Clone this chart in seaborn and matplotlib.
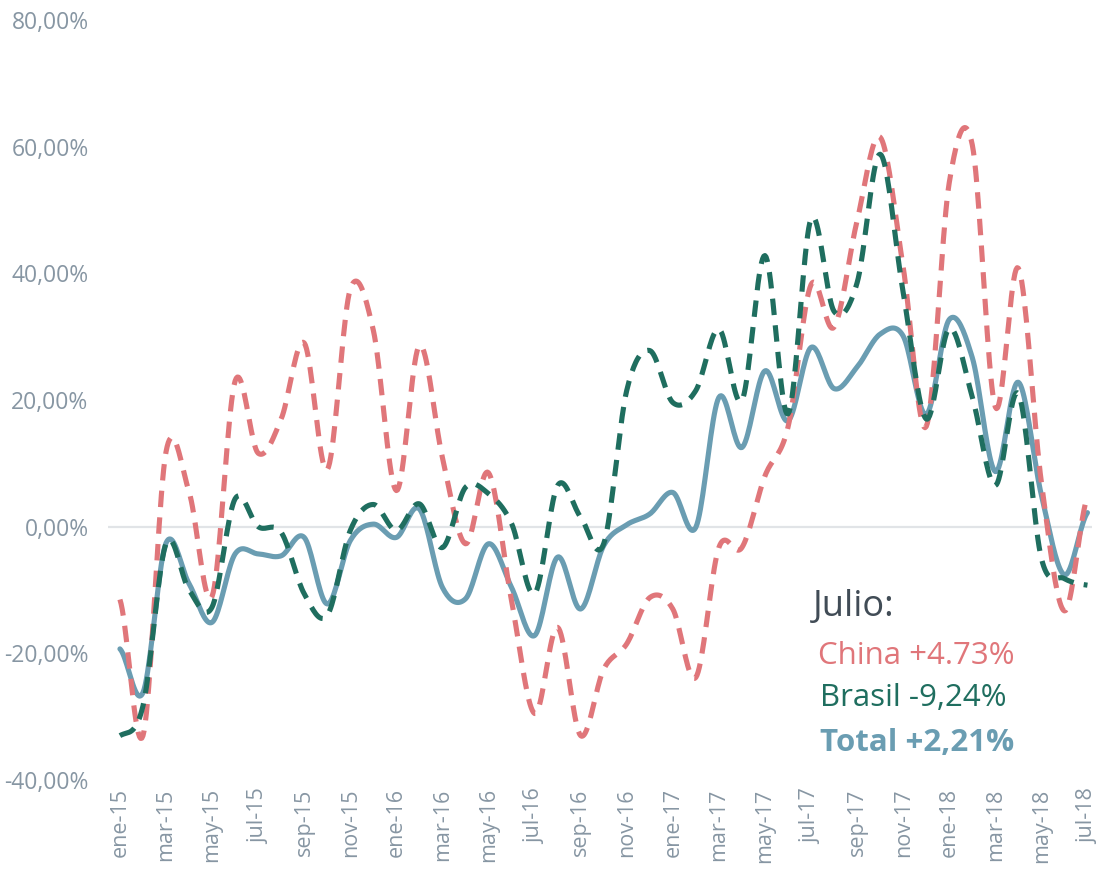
import numpy as np
import pandas as pd
import matplotlib
matplotlib.use('Agg')
import matplotlib.pyplot as plt
import seaborn as sns

# monthly year-on-year variation (%), ene-15 .. jul-18
dates = pd.date_range('2015-01-01', periods=43, freq='MS')
month_names = ['ene', 'feb', 'mar', 'abr', 'may', 'jun', 'jul', 'ago', 'sep', 'oct', 'nov', 'dic']

china = [-11.5, -33.0, 11.8, 5.5, -11.0, 23.0, 11.6, 17.0, 29.0, 9.0,
         37.5, 31.0, 5.7, 28.6, 10.9, -2.7, 8.5, -11.7, -29.5, -15.9,
         -33.0, -22.5, -18.5, -11.2, -13.0, -23.8, -3.3, -3.3, 8.0, 15.7,
         38.2, 31.5, 48.3, 61.5, 41.0, 15.8, 54.3, 60.3, 18.9, 40.8,
         7.0, -13.3, 4.73]
brasil = [-33.0, -28.3, -2.7, -10.0, -12.7, 4.4, 0.0, -0.9, -10.6, -14.0,
          -0.6, 3.5, -0.6, 3.6, -3.3, 6.2, 5.2, 0.5, -10.6, 6.5,
          1.5, -2.7, 21.5, 27.8, 19.6, 21.5, 31.2, 19.9, 42.8, 17.8,
          48.6, 34.0, 38.5, 58.8, 37.0, 17.0, 31.3, 20.5, 6.5, 21.0,
          -5.0, -8.2, -9.24]
total = [-19.3, -26.2, -2.6, -9.0, -15.1, -4.3, -4.3, -4.6, -1.7, -12.2,
         -2.2, 0.4, -1.7, 2.8, -9.6, -11.4, -2.7, -9.6, -17.2, -4.8,
         -13.0, -3.0, 0.3, 2.0, 5.4, -0.1, 20.4, 12.5, 24.6, 16.7,
         28.3, 21.8, 25.2, 30.4, 30.1, 17.7, 32.7, 26.7, 8.7, 22.8,
         5.0, -7.6, 2.21]

c_china = '#e0767a'
c_brasil = '#1f6e5f'
c_total = '#6a9db2'
c_tick = '#8796a3'


def smooth(values, steps=20):
    # excel-like smoothed line (catmull-rom through the points)
    p = np.asarray(values, dtype=float)
    ext = np.concatenate([[p[0]], p, [p[-1]]])
    xs, ys = [], []
    t = np.linspace(0, 1, steps, endpoint=False)
    for i in range(len(p) - 1):
        p0, p1, p2, p3 = ext[i], ext[i + 1], ext[i + 2], ext[i + 3]
        y = 0.5 * ((2 * p1) + (-p0 + p2) * t + (2 * p0 - 5 * p1 + 4 * p2 - p3) * t ** 2
                   + (-p0 + 3 * p1 - 3 * p2 + p3) * t ** 3)
        xs.extend(i + t)
        ys.extend(y)
    xs.append(len(p) - 1)
    ys.append(p[-1])
    return np.array(xs), np.array(ys)


sns.set_style('white')
plt.rcParams['font.family'] = ['Open Sans', 'DejaVu Sans']

fig = plt.figure(figsize=(10.96, 8.72), dpi=100)
ax = fig.add_axes([0.0985, 0.1055, 0.8979, 0.8716])

ax.axhline(0, color='#e1e4e7', lw=1.6, zorder=1)

x, y = smooth(total)
sns.lineplot(x=x, y=y, ax=ax, color=c_total, lw=3.7, sort=False, zorder=2)
x, y = smooth(china)
sns.lineplot(x=x, y=y, ax=ax, color=c_china, lw=3.7, sort=False,
             linestyle=(0, (3.2, 2.0)), zorder=3)
x, y = smooth(brasil)
sns.lineplot(x=x, y=y, ax=ax, color=c_brasil, lw=3.7, sort=False,
             linestyle=(0, (3.2, 2.0)), zorder=4)

ax.set_xlim(-0.52, 42.2)
ax.set_ylim(-40, 80)
ax.set_yticks(range(-40, 81, 20))
ax.set_yticklabels([f'{v:.2f}%'.replace('.', ',') for v in range(-40, 81, 20)],
                   fontsize=16.5, color=c_tick)
tick_pos = list(range(0, len(dates), 2))
ax.set_xticks(tick_pos)
ax.set_xticklabels([f'{month_names[dates[i].month - 1]}-{dates[i].year % 100}' for i in tick_pos],
                   rotation=90, fontsize=15.5, color=c_tick)
ax.tick_params(axis='both', length=0)
ax.tick_params(axis='y', pad=14)
ax.tick_params(axis='x', pad=6)
for s in ax.spines.values():
    s.set_visible(False)
ax.set_xlabel('')
ax.set_ylabel('')

fig.text(0.742, 0.304, 'Julio:', fontsize=26, color='#414c56', va='center')
fig.text(0.746, 0.248, 'China +4.73%', fontsize=22.5, color=c_china, va='center')
fig.text(0.748, 0.1995, 'Brasil -9,24%', fontsize=22.5, color=c_brasil, va='center')
fig.text(0.748, 0.148, 'Total +2,21%', fontsize=22.5, color=c_total, va='center',
         fontweight='bold')

fig.savefig('out.png', dpi=100)
